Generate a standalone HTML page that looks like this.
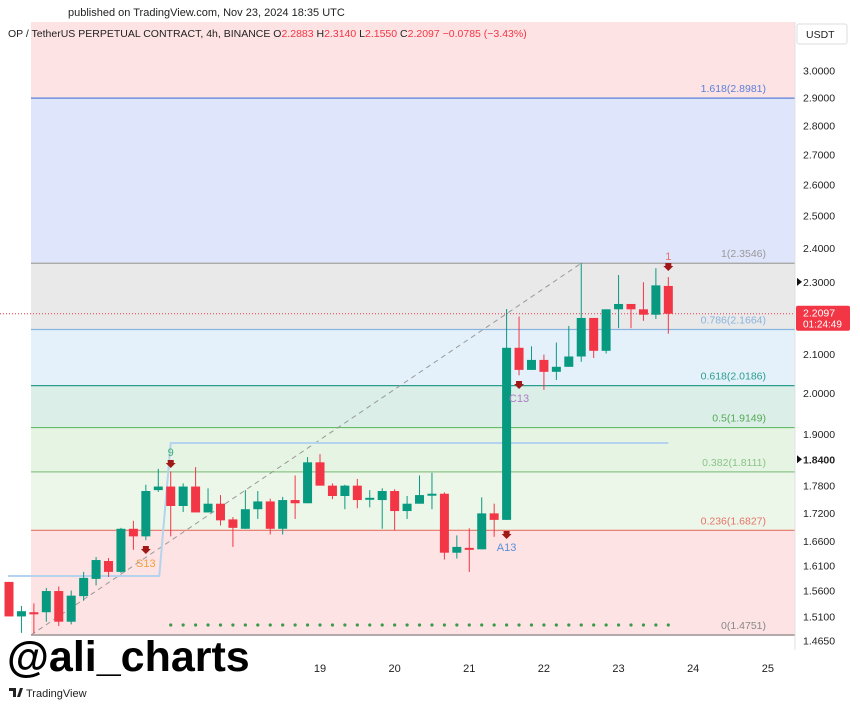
<!DOCTYPE html>
<html><head><meta charset="utf-8"><style>
body{margin:0;width:860px;height:707px;background:#fff;font-family:"Liberation Sans",sans-serif;overflow:hidden;position:relative}
svg{position:absolute;left:0;top:0}
</style></head><body>
<svg id="c" width="860" height="707"></svg>
<script>
const opens=[1.577,1.510,1.518,1.518,1.559,1.500,1.549,1.583,1.619,1.597,1.686,1.670,1.770,1.778,1.735,1.778,1.721,1.740,1.706,1.686,1.728,1.745,1.686,1.748,1.741,1.833,1.780,1.757,1.780,1.751,1.748,1.768,1.724,1.740,1.760,1.762,1.636,1.646,1.643,1.719,1.705,2.117,2.059,2.085,2.054,2.067,2.094,2.198,2.109,2.222,2.237,2.222,2.207,2.2883];
const closes=[1.510,1.520,1.514,1.559,1.500,1.550,1.585,1.621,1.597,1.686,1.670,1.768,1.778,1.735,1.778,1.721,1.740,1.704,1.688,1.728,1.745,1.686,1.748,1.741,1.833,1.780,1.757,1.780,1.748,1.753,1.768,1.724,1.740,1.759,1.762,1.636,1.648,1.643,1.719,1.705,2.117,2.059,2.085,2.054,2.067,2.094,2.198,2.109,2.222,2.237,2.222,2.207,2.290,2.2097];
const highs=[1.577,1.530,1.535,1.565,1.568,1.560,1.597,1.627,1.625,1.688,1.703,1.782,1.818,1.812,1.785,1.822,1.774,1.759,1.711,1.770,1.768,1.751,1.755,1.803,1.845,1.852,1.785,1.782,1.795,1.770,1.774,1.772,1.757,1.803,1.809,1.765,1.672,1.687,1.754,1.740,2.223,2.202,2.121,2.099,2.131,2.176,2.355,2.198,2.222,2.320,2.237,2.299,2.340,2.314];
const lows=[1.510,1.479,1.478,1.500,1.492,1.495,1.540,1.570,1.587,1.595,1.642,1.662,1.766,1.670,1.722,1.721,1.721,1.693,1.648,1.686,1.707,1.674,1.674,1.707,1.741,1.780,1.750,1.728,1.730,1.732,1.686,1.683,1.707,1.740,1.728,1.622,1.624,1.597,1.643,1.669,1.705,2.045,2.059,2.008,2.033,2.067,2.080,2.090,2.102,2.170,2.170,2.190,2.195,2.155];
const fibLevels=[1.618,1,0.786,0.618,0.5,0.382,0.236,0];
const fibPrices=[2.8981,2.3546,2.1664,2.0186,1.9149,1.8111,1.6827,1.4751];
const priceTicks=[3.0,2.9,2.8,2.7,2.6,2.5,2.4,2.3,2.2,2.1,2.0,1.9,1.84,1.78,1.72,1.66,1.61,1.56,1.51,1.465];
const dayLabels=["19","20","21","22","23","24","25"];
const currentPrice=2.2097;

const NS="http://www.w3.org/2000/svg",svg=document.getElementById('c');
const y=p=>393-795*Math.log(p/2);
const x=i=>9+12.44*i;
function el(t,a,txt){const e=document.createElementNS(NS,t);for(const k in a)e.setAttribute(k,a[k]);if(txt!=null)e.textContent=txt;svg.appendChild(e);return e;}
let r=el('rect',{x:31,y:22,width:764,height:614,fill:'#fde3e3'});

const zoneFill=['#dfe5fb','#e9e9ea','#e4f1fb','#dbeee8','#e6f4e3','#edf7e9'];
for(let k=0;k<6;k++){const z=el('rect',{x:31,y:y(fibPrices[k]),width:764,height:y(fibPrices[k+1])-y(fibPrices[k]),fill:zoneFill[k]});
}
const lineCol=['#5b7fdb','#a0a0a0','#88b4dd','#2a9d8f','#66bb6a','#8bc38a','#e57368','#888'];
const labCol=['#5b7fdb','#999','#88b4dd','#2a9d8f','#55aa55','#8bc38a','#e57368','#888'];
for(let k=0;k<8;k++){const yy=y(fibPrices[k]);
const l=el('line',{x1:31,x2:795,y1:yy,y2:yy,stroke:lineCol[k],'stroke-width':1.2});

const t=el('text',{x:766,y:yy-6,'font-size':10.5,fill:labCol[k],'text-anchor':'end'},fibLevels[k]+'('+fibPrices[k].toFixed(4)+')');
}
let d=el('line',{x1:31,y1:y(1.4751),x2:x(46),y2:y(2.3546),stroke:'#999','stroke-width':1,'stroke-dasharray':'5,4'});

let s=el('polyline',{points:`8,576 ${x(12)+1},576 ${x(13)},443 ${x(53)},443`,fill:'none',stroke:'#b5d3ee','stroke-width':2});

let cp=el('line',{x1:0,x2:795,y1:y(currentPrice),y2:y(currentPrice),stroke:'#f23645','stroke-width':1,'stroke-dasharray':'1,2'});

for(let i=13;i<=53;i++){const c=el('circle',{cx:x(i),cy:625,r:1.6,fill:'#3a9a4a'});
}
for(let i=0;i<opens.length;i++){const up=closes[i]>=opens[i],col=up?'#089981':'#f23645';
const w=el('line',{x1:x(i),x2:x(i),y1:y(highs[i]),y2:y(lows[i]),stroke:col,'stroke-width':1});

const t=Math.min(y(opens[i]),y(closes[i]));const h=Math.max(2,Math.abs(y(opens[i])-y(closes[i])));
const b=el('rect',{x:x(i)-4.5,y:t,width:9,height:h,fill:col});
}
function mark(i,ty,txt,tcol,ay){const a=el('path',{d:`M${x(i)-3},${ay-4}h6v3h2l-5,5l-5,-5h2z`,fill:'#a01818'});

const t=el('text',{x:x(i),y:ty,'font-size':11,fill:tcol,'text-anchor':'middle'},txt);
}
mark(13,456,'9','#3bb07a',464);mark(11,567,'S13','#f0a040',550);mark(41,402,'C13','#b07cc6',385);mark(40,551,'A13','#5b8fd8',535);mark(53,260,'1','#e57368',267);
let ax=el('rect',{x:795,y:22,width:65,height:685,fill:'#fff'});

el('line',{x1:795,x2:795,y1:22,y2:650,stroke:'#e0e0e0'});
for(const p of priceTicks){const t=el('text',{x:803,y:y(p)+4,'font-size':10.5,fill:'#222','font-weight':p===1.84?'bold':'normal'},p.toFixed(4));
}
el('path',{d:`M797,${y(2.3)-4}l5,4l-5,4z`,fill:'#111'});el('path',{d:`M797,${y(1.84)-4}l5,4l-5,4z`,fill:'#111'});
let pl=el('rect',{x:796,y:y(currentPrice)-8,width:54,height:25,fill:'#f23645',rx:2});

el('text',{x:803,y:y(currentPrice)+3,'font-size':10.5,fill:'#fff'},currentPrice.toFixed(4));
el('text',{x:803,y:y(currentPrice)+14,'font-size':10,fill:'#fff'},'01:24:49');
let ub=el('rect',{x:797,y:24,width:50,height:20,fill:'#fff',stroke:'#ddd',rx:2});

el('text',{x:806,y:38,'font-size':10.5,fill:'#222'},'USDT');
for(let k=0;k<dayLabels.length;k++){const t=el('text',{x:x(25+6*k),y:672,'font-size':11,fill:'#222','text-anchor':'middle'},dayLabels[k]);
}
let h1=el('text',{x:68,y:16,'font-size':11,fill:'#222'},'published on TradingView.com, Nov 23, 2024 18:35 UTC');

let h2=el('text',{x:8,y:37,'font-size':10.5,fill:'#222'});

h2.innerHTML='OP / TetherUS PERPETUAL CONTRACT, 4h, BINANCE  O<tspan fill="#f23645">2.2883</tspan>  H<tspan fill="#f23645">2.3140</tspan>  L<tspan fill="#f23645">2.1550</tspan>  C<tspan fill="#f23645">2.2097  −0.0785 (−3.43%)</tspan>';
let wm=el('text',{x:7,y:671,'font-size':43,'font-weight':'bold',fill:'#000'},'@ali_charts');

let lg=el('text',{x:26,y:697,'font-size':11,fill:'#222'},'TradingView');

el('path',{d:'M9,688h7v9h-3v-6h-4z M17,697l3,-9h3l-3,9z',fill:'#222'});
</script>
</body></html>
